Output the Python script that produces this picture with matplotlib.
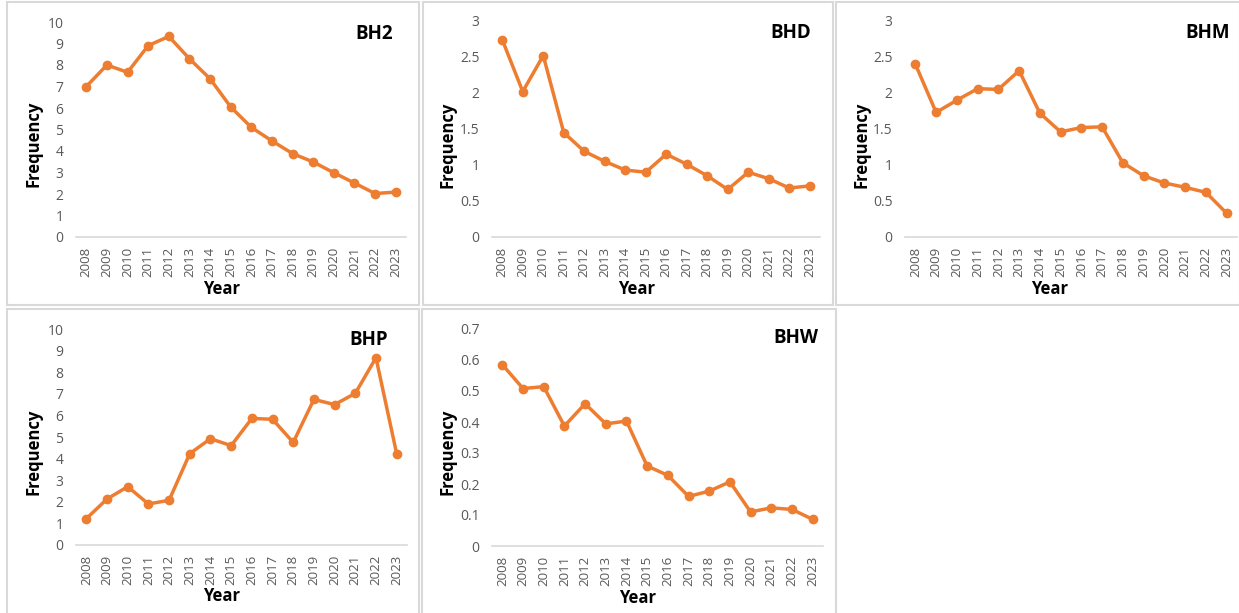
import matplotlib
matplotlib.use("Agg")
import matplotlib.pyplot as plt
from matplotlib.patches import Rectangle

plt.rcParams['font.family'] = ['Open Sans', 'DejaVu Sans']

years = [str(y) for y in range(2008, 2024)]

bh2 = [7.0, 8.0, 7.66, 8.9, 9.33, 8.29, 7.36, 6.05, 5.1, 4.47, 3.88, 3.49, 2.99, 2.51, 2.02, 2.09]
bhd = [2.74, 2.02, 2.52, 1.45, 1.19, 1.05, 0.93, 0.90, 1.15, 1.01, 0.85, 0.66, 0.90, 0.81, 0.68, 0.71]
bhm = [2.40, 1.73, 1.90, 2.06, 2.05, 2.31, 1.72, 1.46, 1.52, 1.53, 1.03, 0.85, 0.75, 0.69, 0.62, 0.33]
bhp = [1.22, 2.13, 2.70, 1.90, 2.07, 4.23, 4.92, 4.60, 5.86, 5.82, 4.75, 6.74, 6.50, 7.02, 8.67, 4.23]
bhw = [0.585, 0.508, 0.514, 0.387, 0.459, 0.394, 0.403, 0.258, 0.228, 0.160, 0.177, 0.207, 0.110, 0.123, 0.118, 0.086]

titles = ["BH2", "BHD", "BHM", "BHP", "BHW"]
series = [bh2, bhd, bhm, bhp, bhw]
ymaxes = [10, 3, 3, 10, 0.7]
ysteps = [1, 0.5, 0.5, 1, 0.1]

W, H = 1239, 613
fig = plt.figure(figsize=(W / 100, H / 100), dpi=100)
fig.patch.set_facecolor('white')

def fx(x):
    return x / W

def fy(y):
    return 1 - y / H

# panel frames (left, top, right, bottom) in pixels
frames = [(7, 2, 419, 305), (423, 2, 833, 305), (836, 2, 1240, 305),
          (7, 309, 419, 616), (422, 309, 836, 616)]
for (l, t, r, b) in frames:
    fig.add_artist(Rectangle((fx(l), fy(b)), fx(r - l), (b - t) / H,
                             transform=fig.transFigure, fill=False,
                             edgecolor='#d9d9d9', linewidth=1.5))

# plot areas (left, top, right, bottom) in pixels
areas = [(76, 22, 406, 237), (492, 21, 820, 237), (905, 21, 1237, 237),
         (76, 329, 407, 545), (492, 329, 823, 546)]
# label positions: frequency x, freq y, year x, year y, title right x, title y
labels = [(33, 144, 222, 289, 393, 34),
          (448, 145, 637, 289, 811, 33),
          (861, 145, 1050, 289, 1230, 33),
          (33, 452, 222, 596, 388, 340),
          (448, 452, 638, 598, 818, 338)]

color = '#ED7D31'
tickcolor = '#595959'

for i in range(5):
    l, t, r, b = areas[i]
    ax = fig.add_axes([fx(l), fy(b), (r - l) / W, (b - t) / H])
    x = list(range(len(years)))
    ax.plot(x, series[i], color=color, linewidth=2.5, marker='o',
            markersize=6, markerfacecolor=color, markeredgecolor=color,
            solid_capstyle='round', solid_joinstyle='round')
    ax.set_xlim(-0.5, len(years) - 0.5)
    ax.set_ylim(0, ymaxes[i])
    n = int(round(ymaxes[i] / ysteps[i]))
    yt = [k * ysteps[i] for k in range(n + 1)]
    ax.set_yticks(yt)
    ax.set_yticklabels([('%g' % round(v, 2)) for v in yt])
    ax.set_xticks(x)
    ax.set_xticklabels(years, rotation=90)
    ax.tick_params(axis='both', length=0, colors=tickcolor)
    ax.tick_params(axis='y', pad=9, labelsize=10)
    ax.tick_params(axis='x', pad=7, labelsize=9.5)
    for s in ['top', 'right', 'left']:
        ax.spines[s].set_visible(False)
    ax.spines['bottom'].set_color('#d9d9d9')
    ax.spines['bottom'].set_linewidth(1.2)
    ax.patch.set_alpha(0)
    for lab in ax.get_xticklabels() + ax.get_yticklabels():
        lab.set_color(tickcolor)

    fxq, fyq, yx, yy, tx, ty = labels[i]
    fig.text(fx(fxq), fy(fyq), "Frequency", rotation=90, ha='center',
             va='center', fontsize=12, fontweight='bold', color='black')
    fig.text(fx(yx), fy(yy), "Year", ha='center', va='center',
             fontsize=12, fontweight='bold', color='black')
    fig.text(fx(tx), fy(ty), titles[i], ha='right', va='center',
             fontsize=13.5, fontweight='bold', color='black')

fig.savefig("out.png", dpi=100, facecolor='white')
